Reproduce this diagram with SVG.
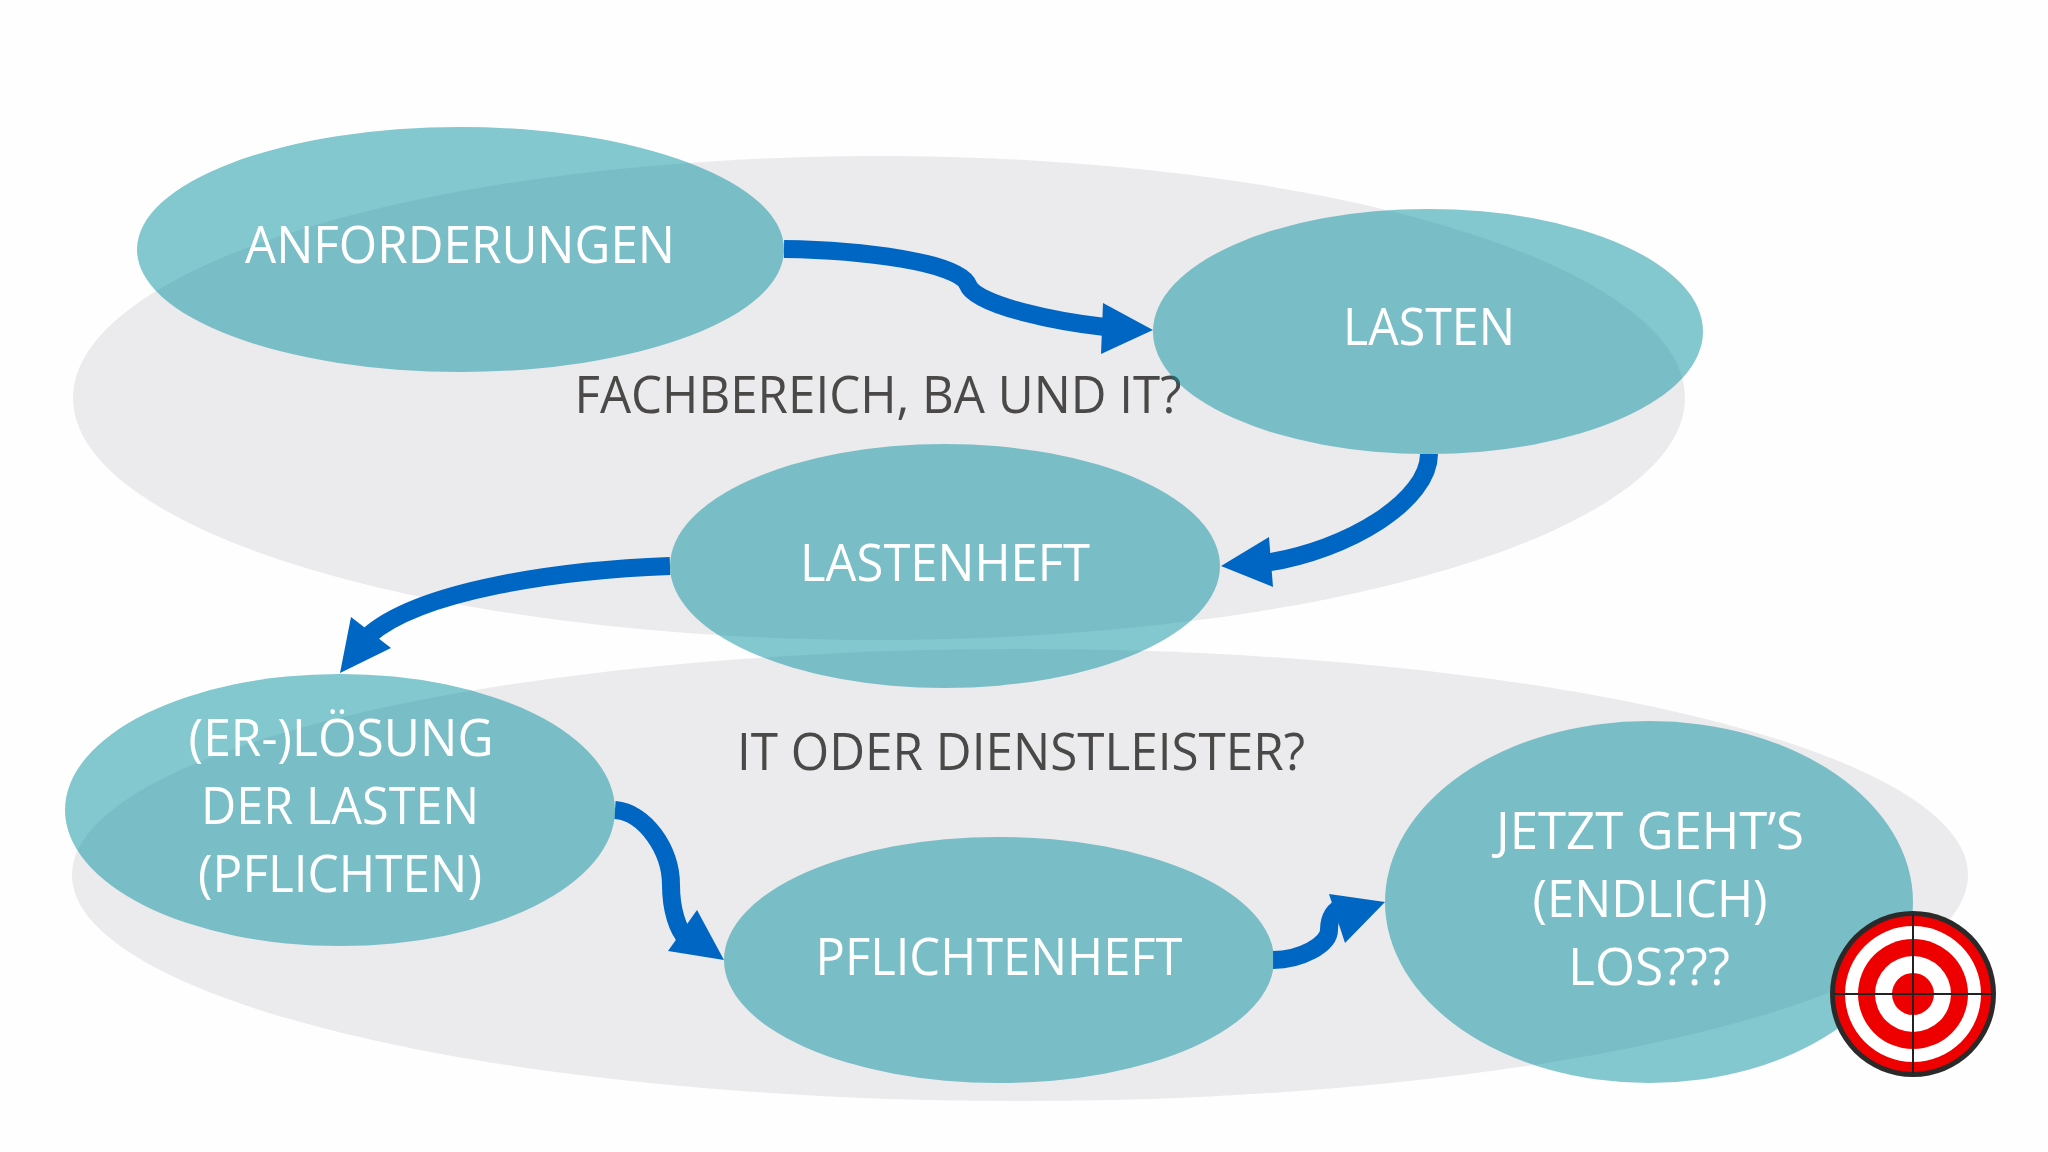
<svg xmlns="http://www.w3.org/2000/svg" width="2048" height="1152" viewBox="0 0 2048 1152">
<style>
.bg{fill:#ebebed}
.n{fill:#078f9f;fill-opacity:.5}
text{font-family:"Open Sans","Liberation Sans",sans-serif;font-size:51px;text-anchor:middle}
.w{fill:#fff}
.d{fill:#4b4947}
.c{fill:none;stroke:#0066c4;stroke-width:18}
.h{fill:#0066c4}
</style>
<rect width="2048" height="1152" fill="#fefefe"/>
<g id="backgrounds">
<ellipse class="bg" cx="879" cy="398" rx="806" ry="242"/>
<ellipse class="bg" cx="1020" cy="875" rx="948" ry="226"/>
</g>
<g id="group-labels">
<text class="d" x="878" y="413" textLength="607" lengthAdjust="spacingAndGlyphs">FACHBEREICH, BA UND IT?</text>
<text class="d" x="1021" y="770" textLength="568" lengthAdjust="spacingAndGlyphs">IT ODER DIENSTLEISTER?</text>
</g>
<g id="connectors">
<path class="c" d="M784 249C860 250 960 262 968 285C976 306 1060 322 1105 327"/>
<polygon class="h" points="1153,330 1103,303 1101,354"/>
<path class="c" d="M1429 454C1429 500 1350 550 1265 563"/>
<polygon class="h" points="1221,566 1269,537 1273,587"/>
<path class="c" d="M670 566C560 570 420 590 368 636"/>
<polygon class="h" points="340,673 351,617 391,648"/>
<path class="c" d="M615 810C645 812 671 850 671 885C671 910 678 930 686 938"/>
<polygon class="h" points="724,960 697,910 668,951"/>
<path class="c" d="M1273 960C1300 960 1329 945 1329 930C1329 918 1333 910 1345 905"/>
<polygon class="h" points="1385,902 1329,894 1345,943"/>
</g>
<g id="n-anforderungen"><ellipse class="n" cx="460.500" cy="249.500" rx="323.500" ry="122.500"/><text class="w" x="460" y="263" textLength="430" lengthAdjust="spacingAndGlyphs">ANFORDERUNGEN</text></g>
<g id="n-lasten"><ellipse class="n" cx="1428" cy="331.500" rx="275" ry="122.500"/><text class="w" x="1429" y="345" textLength="172" lengthAdjust="spacingAndGlyphs">LASTEN</text></g>
<g id="n-lastenheft"><ellipse class="n" cx="945" cy="566" rx="275" ry="122"/><text class="w" x="945" y="581" textLength="290" lengthAdjust="spacingAndGlyphs">LASTENHEFT</text></g>
<g id="n-loesung"><ellipse class="n" cx="340" cy="810" rx="275" ry="136"/>
<text class="w" x="341" y="756" textLength="305" lengthAdjust="spacingAndGlyphs">(ER-)LÖSUNG</text>
<text class="w" x="340" y="824" textLength="278" lengthAdjust="spacingAndGlyphs">DER LASTEN</text>
<text class="w" x="340" y="892" textLength="284" lengthAdjust="spacingAndGlyphs">(PFLICHTEN)</text></g>
<g id="n-pflichtenheft"><ellipse class="n" cx="999" cy="960" rx="275" ry="123"/><text class="w" x="999" y="975" textLength="367" lengthAdjust="spacingAndGlyphs">PFLICHTENHEFT</text></g>
<g id="n-jetzt"><ellipse class="n" cx="1649" cy="902" rx="264" ry="181"/>
<text class="w" x="1650" y="849" textLength="308" lengthAdjust="spacingAndGlyphs">JETZT GEHT’S</text>
<text class="w" x="1650" y="917" textLength="235" lengthAdjust="spacingAndGlyphs">(ENDLICH)</text>
<text class="w" x="1649" y="985" textLength="162" lengthAdjust="spacingAndGlyphs">LOS???</text></g>
<g id="target">
<circle cx="1913" cy="994" r="83" fill="#2a2a2a"/>
<circle cx="1913" cy="994" r="78" fill="#ee0000"/>
<circle cx="1913" cy="994" r="68" fill="#fff"/>
<circle cx="1913" cy="994" r="55" fill="#ee0000"/>
<circle cx="1913" cy="994" r="38" fill="#fff"/>
<circle cx="1913" cy="994" r="21" fill="#ee0000"/>
<path d="M1913 914V1074M1834 994H1992" stroke="#222" stroke-width="2" fill="none"/>
</g>
</svg>
